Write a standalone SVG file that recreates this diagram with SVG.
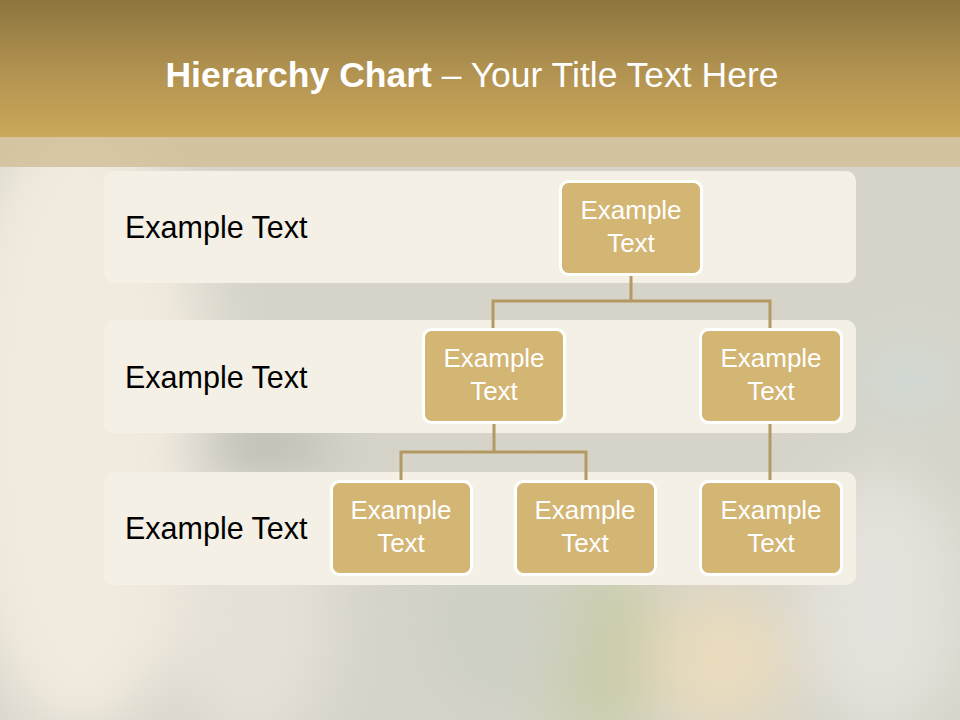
<svg xmlns="http://www.w3.org/2000/svg" width="960" height="720" viewBox="0 0 960 720">
<defs>
<linearGradient id="title" x1="0" y1="0" x2="0" y2="1">
<stop offset="0" stop-color="#8c753e"/>
<stop offset="0.5" stop-color="#b09150"/>
<stop offset="1" stop-color="#cca85a"/>
</linearGradient>
<filter id="blur" x="-50%" y="-50%" width="200%" height="200%"><feGaussianBlur stdDeviation="30"/></filter>
<style>
.band{fill:#f5f0e6}
.node{fill:#d3b574;stroke:#ffffff;stroke-width:3}
.nt{font-family:"Liberation Sans",Arial,sans-serif;font-size:26px;fill:#ffffff;text-anchor:middle}
.lt{font-family:"Liberation Sans",Arial,sans-serif;font-size:30.5px;fill:#000000}
.conn{fill:none;stroke:#b39a62;stroke-width:3}
</style>
</defs>
<g id="background">
<rect x="0" y="0" width="960" height="720" fill="#d6d4c9"/>
<g filter="url(#blur)">
<ellipse cx="80" cy="420" rx="130" ry="320" fill="#f1eadf"/>
<ellipse cx="250" cy="600" rx="80" ry="150" fill="#e6e1d7"/>
<ellipse cx="260" cy="450" rx="70" ry="30" fill="#b5b7af"/>
<ellipse cx="600" cy="650" rx="60" ry="90" fill="#c9cca8"/>
<ellipse cx="720" cy="660" rx="70" ry="70" fill="#eadcbd"/>
<ellipse cx="880" cy="600" rx="80" ry="130" fill="#e4e2dc"/>
<ellipse cx="910" cy="380" rx="50" ry="30" fill="#cfdcd8"/>
<ellipse cx="500" cy="620" rx="80" ry="100" fill="#cfd0c4"/>
</g>
</g>
<g id="header">
<rect x="0" y="137" width="960" height="30" fill="#d2bf99" opacity="0.85"/>
<rect x="0" y="0" width="960" height="137" fill="url(#title)"/>
<text x="472" y="87" text-anchor="middle" font-family="'Liberation Sans',Arial,sans-serif" font-size="35.5" fill="#ffffff"><tspan font-weight="bold">Hierarchy Chart</tspan> – Your Title Text Here</text>
</g>
<g id="bands">
<g id="band1"><rect class="band" x="104" y="171" width="752" height="112" rx="10"/><text class="lt" x="125" y="238">Example Text</text></g>
<g id="band2"><rect class="band" x="104" y="320" width="752" height="113" rx="10"/><text class="lt" x="125" y="388">Example Text</text></g>
<g id="band3"><rect class="band" x="104" y="472" width="752" height="113" rx="10"/><text class="lt" x="125" y="539">Example Text</text></g>
</g>
<g id="connectors">
<path class="conn" d="M631,275 V301 M493,328 V301 H770 V328"/>
<path class="conn" d="M494,423 V452 M401,481 V452 H586 V481"/>
<path class="conn" d="M770,423 V481"/>
</g>
<g id="node-top"><rect class="node" x="560.5" y="181.5" width="141" height="93" rx="8"/><text class="nt" x="631" y="219">Example</text><text class="nt" x="631" y="252">Text</text></g>
<g id="node-l2a"><rect class="node" x="423.5" y="329.5" width="141" height="93" rx="8"/><text class="nt" x="494" y="367">Example</text><text class="nt" x="494" y="400">Text</text></g>
<g id="node-l2b"><rect class="node" x="700.5" y="329.5" width="141" height="93" rx="8"/><text class="nt" x="771" y="367">Example</text><text class="nt" x="771" y="400">Text</text></g>
<g id="node-l3a"><rect class="node" x="331.5" y="481.5" width="140" height="93" rx="8"/><text class="nt" x="401" y="519">Example</text><text class="nt" x="401" y="552">Text</text></g>
<g id="node-l3b"><rect class="node" x="515.5" y="481.5" width="140" height="93" rx="8"/><text class="nt" x="585" y="519">Example</text><text class="nt" x="585" y="552">Text</text></g>
<g id="node-l3c"><rect class="node" x="700.5" y="481.5" width="141" height="93" rx="8"/><text class="nt" x="771" y="519">Example</text><text class="nt" x="771" y="552">Text</text></g>
</svg>
